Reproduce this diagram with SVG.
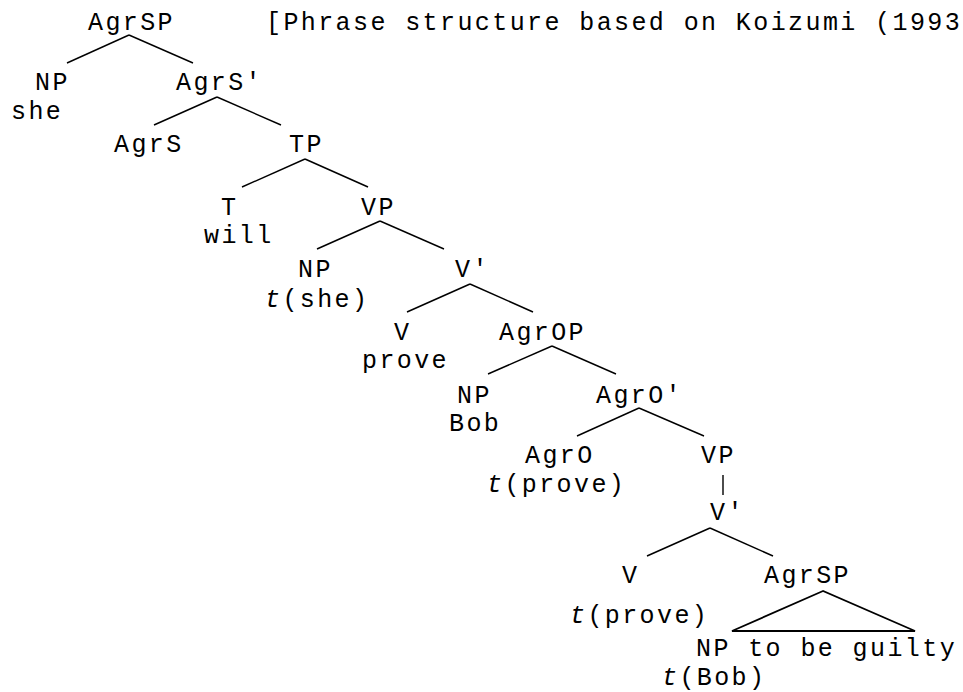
<svg xmlns="http://www.w3.org/2000/svg" width="963" height="692" viewBox="0 0 963 692">
<style>
text{font-family:"Liberation Mono","Courier New",monospace;font-size:25px;letter-spacing:2.4px;fill:#000}
.i{font-style:italic}
line,polygon{stroke:#000;stroke-width:1.4;fill:none}
.tri{stroke-width:1.8}
</style>
<rect width="963" height="692" fill="#fff"/>
<g id="connectors">
<line x1="129" y1="35" x2="67" y2="63"/><line x1="129" y1="35" x2="193" y2="63"/>
<line x1="217" y1="97" x2="154" y2="125"/><line x1="217" y1="97" x2="281" y2="125"/>
<line x1="305" y1="159" x2="242" y2="187"/><line x1="305" y1="159" x2="368" y2="187"/>
<line x1="380" y1="221" x2="317" y2="249"/><line x1="380" y1="221" x2="444" y2="249"/>
<line x1="470" y1="284" x2="407" y2="312"/><line x1="470" y1="284" x2="533" y2="312"/>
<line x1="552" y1="346" x2="488" y2="374"/><line x1="552" y1="346" x2="616" y2="374"/>
<line x1="639" y1="408" x2="577" y2="436"/><line x1="639" y1="408" x2="704" y2="436"/>
<line x1="723" y1="475" x2="723" y2="495"/>
<line x1="710" y1="528" x2="647" y2="556"/><line x1="710" y1="528" x2="773" y2="556"/>
<polygon class="tri" points="823,591 732,631 915,631"/>
</g>
<g id="title"><text x="266" y="30">[Phrase structure based on Koizumi (1993</text></g>
<g id="n-agrsp"><text x="88" y="30">AgrSP</text></g>
<g id="n-np-she"><text x="35" y="90">NP</text><text x="11" y="119">she</text></g>
<g id="n-agrs-bar"><text x="176" y="90">AgrS'</text></g>
<g id="n-agrs"><text x="114" y="152">AgrS</text></g>
<g id="n-tp"><text x="289" y="152">TP</text></g>
<g id="n-t"><text x="221" y="215">T</text><text x="204" y="243">will</text></g>
<g id="n-vp1"><text x="361" y="215">VP</text></g>
<g id="n-np-tshe"><text x="298" y="277">NP</text><text x="265" y="307"><tspan class="i">t</tspan>(she)</text></g>
<g id="n-vbar1"><text x="455" y="277">V'</text></g>
<g id="n-v-prove"><text x="394" y="340">V</text><text x="362" y="368">prove</text></g>
<g id="n-agrop"><text x="499" y="340">AgrOP</text></g>
<g id="n-np-bob"><text x="457" y="403">NP</text><text x="449" y="431">Bob</text></g>
<g id="n-agro-bar"><text x="596" y="403">AgrO'</text></g>
<g id="n-agro"><text x="525" y="463">AgrO</text><text x="487" y="492"><tspan class="i">t</tspan>(prove)</text></g>
<g id="n-vp2"><text x="701" y="463">VP</text></g>
<g id="n-vbar2"><text x="710" y="520">V'</text></g>
<g id="n-v2"><text x="622" y="583">V</text><text x="570" y="623"><tspan class="i">t</tspan>(prove)</text></g>
<g id="n-agrsp2"><text x="764" y="583">AgrSP</text></g>
<g id="n-np-tbob"><text x="696" y="656">NP to be guilty</text><text x="662" y="685"><tspan class="i">t</tspan>(Bob)</text></g>
</svg>
